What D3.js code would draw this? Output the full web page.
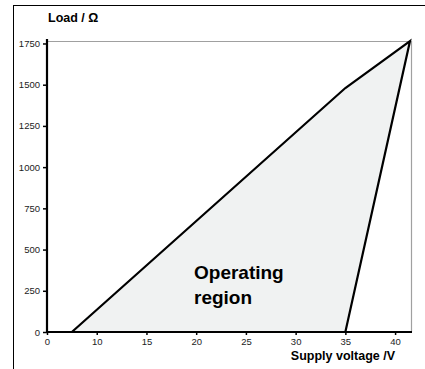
<!DOCTYPE html>
<html>
<head>
<meta charset="utf-8">
<script src="https://cdn.jsdelivr.net/npm/d3@7"></script>
<style>
  body { margin: 0; background: #fff; }
  svg { display: block; font-family: "Liberation Sans", Arial, sans-serif; }
</style>
</head>
<body>
<svg id="chart" width="425" height="369"></svg>
<script>
// data
var regionVoltage = [7.5, 35, 41.5, 35];
var regionLoad = [0, 1480, 1765, 0];
var xTickValues = [5, 10, 15, 20, 25, 30, 35, 40];
var xTickLabels = ['0', '10', '15', '20', '25', '30', '35', '40'];
var yTickValues = [0, 250, 500, 750, 1000, 1250, 1500, 1750];

var svg = d3.select('#chart');
var plot = {left: 47, top: 41, right: 411, bottom: 332};

var x = d3.scaleLinear().domain([5, 41.6]).range([plot.left, plot.right]);
var y = d3.scaleLinear().domain([0, 1765]).range([plot.bottom, plot.top]);

// outer frame bits
svg.append('line').attr('x1', 13.5).attr('x2', 13.5).attr('y1', 5).attr('y2', 369)
    .attr('stroke', '#000').attr('stroke-width', 1);
svg.append('line').attr('x1', 13).attr('x2', 425).attr('y1', 5.5).attr('y2', 5.5)
    .attr('stroke', '#000').attr('stroke-width', 1);

// grey frame top & right
svg.append('path')
    .attr('d', 'M' + plot.left + ',' + (plot.top + 0.5) + 'H' + (plot.right + 0.5) + 'V' + plot.bottom)
    .attr('fill', 'none').attr('stroke', '#a0a0a0').attr('stroke-width', 1.2);

// operating region
var pts = regionVoltage.map(function(v, i){ return [x(v), y(regionLoad[i])]; });
svg.append('path')
    .attr('d', d3.line()(pts) + 'Z')
    .attr('fill', '#f0f2f2')
    .attr('stroke', '#000')
    .attr('stroke-width', 2.2)
    .attr('stroke-linejoin', 'miter');

// axes
var xAxis = svg.append('g')
    .attr('transform', 'translate(0,' + plot.bottom + ')')
    .call(d3.axisBottom(x).tickValues(xTickValues)
          .tickFormat(function(d, i){ return xTickLabels[i]; })
          .tickSize(3).tickPadding(3));
xAxis.select('.domain').attr('d', 'M' + (plot.left - 1) + ',0H' + (plot.right + 1))
    .attr('stroke-width', 2.2);
xAxis.selectAll('.tick line').attr('stroke-width', 1.5);
xAxis.selectAll('text').attr('font-size', 9.5).attr('fill', '#222');

var yAxis = svg.append('g')
    .attr('transform', 'translate(' + plot.left + ',0)')
    .call(d3.axisLeft(y).tickValues(yTickValues).tickFormat(d3.format('d'))
          .tickSize(4).tickPadding(3));
yAxis.select('.domain').attr('d', 'M0,' + (plot.top - 2) + 'V' + (plot.bottom + 1))
    .attr('stroke-width', 2.2);
yAxis.selectAll('.tick line').attr('stroke-width', 1.5);
yAxis.selectAll('text').attr('font-size', 9.5).attr('fill', '#222');

// axis titles
svg.append('text').attr('x', 48).attr('y', 22)
    .attr('font-size', 12.5).attr('font-weight', 'bold').text('Load / Ω');
svg.append('text').attr('x', 395).attr('y', 360).attr('text-anchor', 'end')
    .attr('font-size', 12.5).attr('font-weight', 'bold').text('Supply voltage /V');

// region label
svg.append('text').attr('x', 194).attr('y', 279)
    .attr('font-size', 19).attr('font-weight', 'bold').text('Operating');
svg.append('text').attr('x', 194).attr('y', 304)
    .attr('font-size', 19).attr('font-weight', 'bold').text('region');
</script>
</body>
</html>
